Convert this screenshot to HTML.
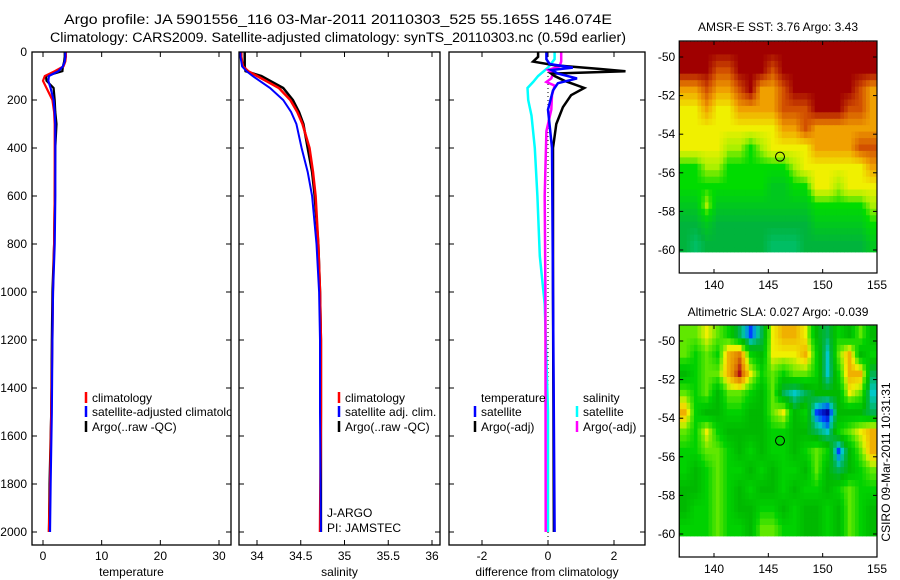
<!DOCTYPE html>
<html><head><meta charset="utf-8"><style>
html,body{margin:0;padding:0;background:#fff;}
svg{display:block;font-family:"Liberation Sans",sans-serif;}
</style></head><body>
<svg id="fig" width="900" height="580" viewBox="0 0 900 580">
<text x="64" y="24" font-size="13.5" textLength="548" lengthAdjust="spacingAndGlyphs">Argo profile: JA 5901556_116 03-Mar-2011 20110303_525 55.165S 146.074E</text>
<text x="50" y="42" font-size="13.5" textLength="576" lengthAdjust="spacingAndGlyphs">Climatology: CARS2009. Satellite-adjusted climatology: synTS_20110303.nc (0.59d earlier)</text>
<text x="778" y="31" font-size="12" text-anchor="middle">AMSR-E SST: 3.76 Argo: 3.43</text>
<text x="778" y="316" font-size="12" text-anchor="middle">Altimetric SLA: 0.027 Argo: -0.039</text>
<text transform="translate(890,462) rotate(-90)" font-size="12" text-anchor="middle">CSIRO 09-Mar-2011 10:31:31</text>
</svg>
<script>
// ---------- data ----------
const depthTicks=[0,200,400,600,800,1000,1200,1400,1600,1800,2000];
const tempTicks=[0,10,20,30];
const salTicks=[34,34.5,35,35.5,36];
const diffTicks=[-2,0,2];
const tDepth=[0,20,40,60,80,100,120,150,200,250,300,400,600,800,1000,1200,1500,1800,2000];
const tClim=[3.9,3.9,3.8,3.5,2.0,0.3,0.0,0.6,1.6,1.9,2.0,2.0,2.0,1.9,1.7,1.6,1.4,1.2,1.0];
const tSat=[3.8,3.8,3.7,3.4,2.6,1.0,0.9,1.3,1.8,2.0,2.1,2.1,2.1,2.0,1.7,1.6,1.5,1.3,1.2];
const tArgo=[3.7,3.7,3.6,3.4,3.3,0.5,0.6,1.8,2.0,2.1,2.3,2.1,2.0,1.9,1.6,1.5,1.4,1.1,1.0];
const sDepth=[0,20,40,60,80,100,120,150,200,250,300,400,500,600,800,1000,1200,1500,2000];
const sClim=[33.82,33.82,33.83,33.84,33.9,34.0,34.1,34.25,34.38,34.46,34.52,34.6,34.64,34.67,34.70,34.72,34.73,34.73,34.72];
const sSat=[33.81,33.81,33.82,33.83,33.88,33.95,34.03,34.15,34.3,34.39,34.45,34.51,34.58,34.63,34.68,34.71,34.72,34.72,34.73];
const sArgo=[33.86,33.86,33.86,33.86,33.87,34.05,34.15,34.3,34.41,34.48,34.53,34.58,34.63,34.66,34.70,34.72,34.73,34.73,34.73];
const dtSatDepth=[0,30,50,65,75,90,110,130,160,240,400,1000,2000];
const dtSat=[-0.05,-0.05,0.05,0.75,0.1,0.3,0.88,0.3,0.15,0.0,0.12,0.15,0.2];
const dtArgoDepth=[0,20,40,55,70,80,90,100,120,150,180,230,300,400,1000,2000];
const dtArgo=[-0.3,-0.3,-0.45,0.2,1.5,2.35,0.1,0.2,0.5,1.1,0.7,0.45,0.25,0.15,0.15,0.18];
const dsSatDepth=[0,30,65,100,125,150,200,265,400,600,850,1050,1500,2000];
const dsSat=[0.2,0.2,0.0,-0.3,-0.45,-0.62,-0.6,-0.5,-0.4,-0.32,-0.25,-0.1,0.0,0.0];
const dsArgoDepth=[0,40,60,75,90,110,125,140,180,240,330,600,1000,2000];
const dsArgo=[0.4,0.4,0.35,0.0,0.15,0.1,-0.05,0.2,0.12,0.1,-0.05,-0.1,-0.08,-0.07];
const lonTicks=[140,145,150,155];
const latTicks=[-50,-52,-54,-56,-58,-60];
const sstGrid=[
[6,6,6,6,6,6,6,6,6,6,6,6,6,6,6,6,6,6],
[6,6,6,5,5,6,6,6,5,6,6,6,6,6,6,6,6,6],
[4,4,5,4,4,5,6,4,4,5,6,6,6,6,6,6,5,4],
[3,3,4,3,3,4,4,4,4,5,5,5,6,6,6,5,5,4],
[3,3,3,3,3,3,3,3,3,4,4,5,4,4,4,4,4,4],
[3,3,3,3,2.5,2.5,2,2.5,3,3,3,3,4,4,4,4,5,5],
[2,2,2.5,2.5,2,2,2,2,2,2,2.5,3,3,3,3,3,3,4],
[2,2,2,2,2,2,2,2,1.5,1.5,2,2,3,3,2.5,3,3,3],
[1.5,1.5,2.5,1.5,1.5,1.5,1.5,1.5,1.5,1.5,1.5,1.5,2,2,2,2,2,2.5],
[1,1,1.5,1,1,1,1,1,1,1,1,1,1.5,1.5,1.5,1.5,1.5,2],
[1,0.5,1,1,1,1,1,1,0.5,0.5,0.5,1,1,1,1,1,1,1.5]];
const slaGrid=[
[6,6,7,6,5,3,1,3,7,8,8,7,4,3,5,4,6,4],
[6,5,6,5,8,9,5,4,7,7,7,8,5,2,6,8,4,5],
[4,5,6,6,8,10,7,5,6,5,6,6,5,2,5,8,8,3],
[6,5,6,4,6,6,5,4,6,3,2,3,4,4,4,7,6,2],
[8,5,4,4,5,5,4,4,6,7,4,5,1,0,4,4,4,3],
[6,5,7,5,4,4,4,4,5,5,4,4,3,2,5,6,7,8],
[5,5,6,6,5,4,5,4,5,5,4,5,6,5,1,4,6,8],
[5,4,5,6,5,5,4,5,4,5,5,4,6,4,3,4,5,6],
[4,4,5,6,5,4,5,4,4,5,4,5,5,4,5,6,5,5],
[4,5,5,6,5,4,4,5,5,4,5,4,4,5,4,6,5,4],
[5,5,5,6,5,5,4,6,6,5,5,4,4,5,4,6,5,4]];
const floatLon=146.074, floatLat=-55.165;

// ---------- helpers ----------
const NS="http://www.w3.org/2000/svg";
const svg=document.getElementById('fig');
function mk(tag,attrs,parent){const e=document.createElementNS(NS,tag);for(const k in attrs)e.setAttribute(k,attrs[k]);(parent||svg).appendChild(e);return e;}
function lin(d0,d1,r0,r1){return v=>r0+(v-d0)*(r1-r0)/(d1-d0);}
const yDepth=lin(0,2000,52,532);
const panels=[
 {x0:32,x1:231,xs:lin(0,30,43,219),ticks:tempTicks,label:'temperature',name:'temperature'},
 {x0:239,x1:440,xs:lin(34,36,257,432),ticks:salTicks,label:'salinity',name:'salinity'},
 {x0:449,x1:645,xs:lin(-2,2,482,614),ticks:diffTicks,label:'difference from climatology',name:'difference'}];
panels.forEach((p,i)=>{
 const g=mk('g',{});
 
 
 const cp=mk('clipPath',{id:'clip'+i},g);mk('rect',{x:p.x0,y:52,width:p.x1-p.x0,height:493},cp);
 depthTicks.forEach(d=>{const y=yDepth(d);
  mk('line',{x1:p.x0,x2:p.x0+5,y1:y,y2:y,stroke:'#000'},g);
  mk('line',{x1:p.x1-5,x2:p.x1,y1:y,y2:y,stroke:'#000'},g);
  if(i===0){const t=mk('text',{x:27,y:y+4,'font-size':12,'text-anchor':'end'},g);t.textContent=d;
   
   }
 });
 p.ticks.forEach(v=>{const x=p.xs(v);
  mk('line',{x1:x,x2:x,y1:52,y2:57,stroke:'#000'},g);
  mk('line',{x1:x,x2:x,y1:540,y2:545,stroke:'#000'},g);
  const t=mk('text',{x:x,y:560,'font-size':12,'text-anchor':'middle'},g);t.textContent=v;
  
  
 });
 const lt=mk('text',{x:(p.x0+p.x1)/2,y:576,'font-size':12,'text-anchor':'middle'},g);lt.textContent=p.label;
 
 
 p.g=mk('g',{'clip-path':'url(#clip'+i+')'},g);
 mk('rect',{x:p.x0,y:52,width:p.x1-p.x0,height:493,fill:'none',stroke:'#000','stroke-width':1.3},g);
});
function profile(p,depths,vals,color,name,w){
 let d='';depths.forEach((dd,k)=>{d+=(k?'L':'M')+p.xs(vals[k]).toFixed(1)+' '+yDepth(dd).toFixed(1);});
 const e=mk('path',{d:d,fill:'none',stroke:color,'stroke-width':w||2.5},p.g);
 
 
}
const z=mk('line',{x1:panels[2].xs(0),x2:panels[2].xs(0),y1:52,y2:545,stroke:'#000','stroke-dasharray':'1,3'},panels[2].g);


profile(panels[0],tDepth,tArgo,'#000','temp-argo-line',2.2);
profile(panels[0],tDepth,tClim,'#f00','temp-climatology-line',2.2);
profile(panels[0],tDepth,tSat,'#00f','temp-satellite-line',2.2);
profile(panels[1],sDepth,sArgo,'#000','sal-argo-line');
profile(panels[1],sDepth,sClim,'#f00','sal-climatology-line');
profile(panels[1],sDepth,sSat,'#00f','sal-satellite-line',2);
profile(panels[2],dsSatDepth,dsSat,'#0ff','sal-diff-satellite-line');
profile(panels[2],dsArgoDepth,dsArgo,'#f0f','sal-diff-argo-line');
profile(panels[2],dtArgoDepth,dtArgo,'#000','temp-diff-argo-line');
profile(panels[2],dtSatDepth,dtSat,'#00f','temp-diff-satellite-line');
function legend(p,x,y,color,text){
 if(color)mk('line',{x1:x-6,x2:x-6,y1:y-10,y2:y+1,stroke:color,'stroke-width':2.5},p.g);
 const t=mk('text',{x:x,y:y,'font-size':12},p.g);t.textContent=text;
 
 
}
legend(panels[0],92,402,'#f00','climatology');
legend(panels[0],92,416,'#00f','satellite-adjusted climatology');
legend(panels[0],92,431,'#000','Argo(..raw -QC)');
legend(panels[1],345,402,'#f00','climatology');
legend(panels[1],345,416,'#00f','satellite adj. clim.');
legend(panels[1],345,431,'#000','Argo(..raw -QC)');
legend(panels[2],481,402,null,'temperature');
legend(panels[2],481,416,'#00f','satellite');
legend(panels[2],481,431,'#000','Argo(-adj)');
legend(panels[2],583,402,null,'salinity');
legend(panels[2],583,416,'#0ff','satellite');
legend(panels[2],583,431,'#f0f','Argo(-adj)');
legend(panels[1],327,517,null,'J-ARGO');
legend(panels[1],327,532,null,'PI: JAMSTEC');
// maps
function ramp(stops,v){for(let k=1;k<stops.length;k++){if(v<=stops[k][0]){const a=stops[k-1],b=stops[k],t=(v-a[0])/(b[0]-a[0]);
 return 'rgb('+[0,1,2].map(c=>Math.round(a[1][c]+(b[1][c]-a[1][c])*t)).join(',')+')';}}const l=stops[stops.length-1][1];return 'rgb('+l.join(',')+')';}
const sstStops=[[0,[0,200,140]],[1,[0,180,60]],[1.5,[0,200,30]],[2,[0,220,0]],[2.5,[170,240,0]],[3,[240,240,0]],[3.5,[240,200,0]],[4,[240,160,0]],[5,[210,80,0]],[6,[160,0,0]]];
const slaStops=[[0,[0,0,160]],[1,[0,64,255]],[2,[0,200,200]],[3,[0,180,80]],[4,[0,185,0]],[5,[0,210,0]],[6,[96,232,0]],[7,[240,240,0]],[8,[240,176,0]],[9,[224,128,0]],[10,[176,16,16]]];
function sample(grid,fr,fc){
 const R=grid.length,C=grid[0].length;
 fr=Math.max(0,Math.min(R-1,fr));fc=Math.max(0,Math.min(C-1,fc));
 const r0=Math.floor(fr),c0=Math.floor(fc),r1=Math.min(R-1,r0+1),c1=Math.min(C-1,c0+1),tr=fr-r0,tc=fc-c0;
 return grid[r0][c0]*(1-tr)*(1-tc)+grid[r0][c1]*(1-tr)*tc+grid[r1][c0]*tr*(1-tc)+grid[r1][c1]*tr*tc;
}
function map(top,grid,stops,name){
 const xs=lin(140,155,714,877),ys=lin(-50,-60,top+16,top+209);
 const g=mk('g',{});
 
 
 const lon0=136.8,lat0=-49.2,bot=-60.1,C=grid[0].length,dlon=(155-lon0)/C;
 const sub=3,nR=Math.ceil((lat0-bot)*sub),nC=C*sub;
 for(let r=0;r<nR;r++)for(let c=0;c<nC;c++){
  const v=sample(grid,(r+0.5)/sub-0.5,(c+0.5)/sub-0.5);
  const la1=lat0-r/sub,la2=Math.max(lat0-(r+1)/sub,bot);
  const x=xs(lon0+c*dlon/sub),y=ys(la1);
  const cell=mk('rect',{x:x.toFixed(1),y:y.toFixed(1),width:(xs(lon0+(c+1)*dlon/sub)-x+0.5).toFixed(1),height:(ys(la2)-y+0.5).toFixed(1),fill:ramp(stops,v)},g);
  
  
 }
 const x0=xs(136.8),x1=877,y0=top,y1=top+232;
 mk('rect',{x:x0,y:y0,width:x1-x0,height:y1-y0,fill:'none',stroke:'#000','stroke-width':1.2},g);
 lonTicks.forEach(v=>{const x=xs(v);mk('line',{x1:x,x2:x,y1:y0,y2:y0+4,stroke:'#000'},g);mk('line',{x1:x,x2:x,y1:y1-4,y2:y1,stroke:'#000'},g);
  const t=mk('text',{x:x,y:y1+16,'font-size':12,'text-anchor':'middle'},g);t.textContent=v;
  
  });
 latTicks.forEach(v=>{const y=ys(v);mk('line',{x1:x0,x2:x0+4,y1:y,y2:y,stroke:'#000'},g);mk('line',{x1:x1-4,x2:x1,y1:y,y2:y,stroke:'#000'},g);
  const t=mk('text',{x:x0-4,y:y+4,'font-size':12,'text-anchor':'end'},g);t.textContent=v;
  
  });
 const c=mk('circle',{cx:xs(floatLon),cy:ys(floatLat),r:4.5,fill:'none',stroke:'#000'},g);
 
 
}
map(41,sstGrid,sstStops,'sst-map');
map(325,slaGrid,slaStops,'sla-map');
</script>
</body></html>
